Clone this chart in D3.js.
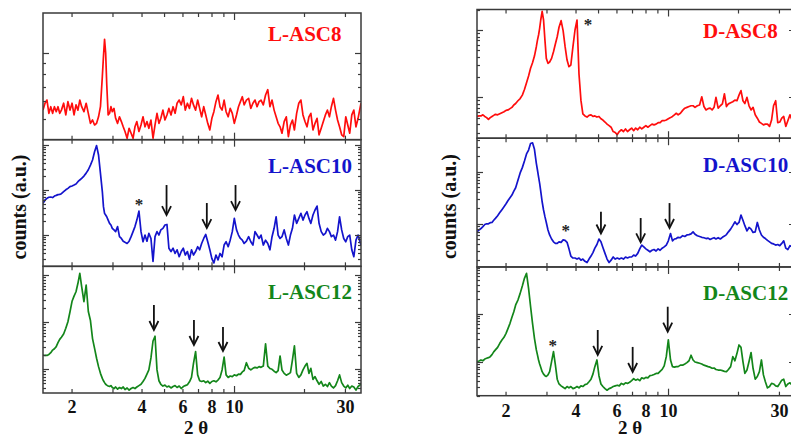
<!DOCTYPE html>
<html>
<head>
<meta charset="utf-8">
<script src="https://cdn.jsdelivr.net/npm/d3@7"></script>
<style>
  html, body { margin: 0; padding: 0; background: #fff; }
  svg { display: block; }
  text { font-family: "Liberation Serif", "Times New Roman", serif; font-weight: bold; }
</style>
</head>
<body>
<svg width="791" height="439"></svg>
<script>
// 2 theta grid shared by all six patterns
const twoTheta = [
  1.50,1.53,1.56,1.59,1.62,1.65,1.68,1.71,1.74,1.77,
  1.80,1.84,1.88,1.92,1.96,2.00,2.04,2.08,2.12,2.16,
  2.20,2.25,2.30,2.35,2.40,2.45,2.50,2.55,2.60,2.65,
  2.70,2.73,2.76,2.79,2.82,2.86,2.90,2.94,2.98,3.03,
  3.08,3.14,3.20,3.26,3.32,3.38,3.45,3.52,3.59,3.66,
  3.73,3.80,3.88,3.96,4.04,4.12,4.20,4.28,4.37,4.46,
  4.55,4.64,4.73,4.82,4.92,5.02,5.12,5.22,5.33,5.44,
  5.55,5.66,5.78,5.90,6.02,6.14,6.27,6.40,6.53,6.66,
  6.80,6.94,7.08,7.22,7.37,7.52,7.67,7.83,7.99,8.15,
  8.32,8.49,8.66,8.84,9.02,9.20,9.39,9.58,9.78,9.98,
  10.2,10.4,10.6,10.8,11.0,11.25,11.5,11.75,12.0,12.25,
  12.5,12.75,13.0,13.3,13.6,13.9,14.2,14.5,14.8,15.1,
  15.4,15.7,16.0,16.35,16.7,17.05,17.4,17.75,18.1,18.5,
  18.9,19.3,19.7,20.1,20.5,20.9,21.3,21.75,22.2,22.65,
  23.1,23.6,24.1,24.6,25.1,25.6,26.1,26.65,27.2,27.75,
  28.3,28.9,29.5,30.1,30.7,31.3,31.95,32.6,33.3,34.0,
  35.0];

// counts (a.u.)
const lAsc8 = [
  547,588,608,529,567,529,567,538,567,529,
  547,588,520,598,547,588,520,578,547,608,
  567,538,588,529,476,493,468,476,510,567,
  780,960,1150,1000,720,520,529,567,538,557,
  502,476,510,485,459,437,407,452,429,407,
  459,485,437,468,510,459,485,452,493,407,
  468,529,476,502,547,493,520,557,520,567,
  529,588,608,578,630,547,588,557,619,578,
  547,608,557,510,567,520,476,444,502,538,
  598,641,567,547,608,538,510,557,529,476,
  520,567,598,630,578,608,619,557,588,608,
  567,598,608,578,641,678,567,608,547,510,
  476,459,429,485,510,414,468,493,444,529,
  588,608,520,485,459,510,529,444,476,502,
  422,452,485,520,547,510,567,619,547,493,
  459,422,414,510,468,429,520,547,459,502,
  588];

const lAsc10 = [
  505,600,653,690,700,680,735,760,790,800,
  830,918,1010,1090,1190,1230,1290,1360,1530,1670,
  1810,2040,2370,2820,3580,4640,7100,9700,5990,2340,
  918,427,303,278,255,215,182,167,141,130,
  119,154,92,84,73,69,65,73,92,119,
  154,215,340,119,71,100,73,109,84,26,
  92,119,100,130,141,167,172,51,43,51,
  39,47,33,43,51,36,43,29,47,36,
  43,55,47,65,84,103,71,47,30,24,
  36,28,39,33,60,71,55,77,119,234,
  130,100,84,77,65,73,92,71,60,119,
  100,84,100,60,77,65,47,92,141,255,
  100,84,92,130,84,60,100,141,278,182,
  234,303,215,278,330,234,182,278,360,440,
  182,119,100,109,141,119,92,100,77,119,
  255,130,84,71,92,100,47,33,77,100,
  60];

const lAsc12 = [
  201,197,197,207,226,256,274,303,368,433,
  480,564,745,1030,1680,2800,3600,4470,6770,11000,
  5730,2750,6220,1700,1090,450,279,172,114,82,
  64,57,52,48,46,44,43,45,41,39,
  42,38,41,39,42,37,40,36,39,41,
  39,42,45,48,55,64,79,97,175,400,
  505,97,57,48,44,46,42,44,40,43,
  45,41,44,39,43,45,47,54,67,134,
  237,76,57,55,57,52,56,50,55,57,
  54,59,67,97,182,76,67,72,70,76,
  73,79,78,88,94,138,105,97,105,110,
  107,114,110,117,350,117,104,100,91,85,
  94,192,97,82,75,79,85,158,315,82,
  67,76,97,117,134,82,105,61,70,57,
  48,55,44,48,43,52,44,40,45,57,
  76,52,44,40,46,39,44,42,36,43,
  48];

const dAsc8 = [
  52,53,53,55,52,50,47,50,52,54,
  56,55,57,59,61,64,65,68,71,77,
  81,89,96,108,131,165,207,270,327,410,
  565,709,843,1060,1409,1890,1409,709,379,320,
  335,379,476,620,795,1100,1377,980,565,358,
  285,302,565,1000,1409,220,90,57,53,51,
  54,55,52,53,51,52,48,46,43,40,
  38,36,31,30,28,31,33,31,34,31,
  33,35,32,35,33,36,34,36,38,36,
  38,40,39,40,42,42,45,45,46,48,
  50,52,55,58,55,58,64,69,71,73,
  75,75,71,75,77,102,73,65,68,69,
  65,71,100,69,75,80,113,73,80,83,
  86,91,89,108,126,89,81,100,75,65,
  71,55,49,43,41,39,40,40,37,46,
  75,89,42,43,49,52,37,45,55,46,
  43];

const dAsc10 = [
  70,76,81,88,97,100,100,105,106,117,
  127,143,164,187,213,243,281,318,357,425,
  493,690,950,1200,1610,2200,2610,3500,3600,2700,
  1450,1080,800,599,425,265,184,137,106,76,
  61,51,45,42,42,45,44,49,48,44,
  33,24,22,22,21,22,20,21,19,18,
  21,24,28,34,40,51,45,35,27,21,
  18,20,23,21,22,21,22,21,23,22,
  23,23,25,24,27,33,39,36,33,31,
  29,31,32,30,33,31,34,36,39,47,
  65,47,51,52,55,54,59,57,61,62,
  64,70,63,59,57,55,54,52,53,50,
  52,54,51,54,51,55,58,62,70,79,
  92,109,97,106,147,117,92,73,85,79,
  68,70,106,76,61,55,52,48,45,42,
  41,39,40,38,42,47,34,32,38,36,
  35];

const dAsc12 = [
  102,105,110,106,115,119,123,129,142,162,
  178,201,244,286,325,392,496,632,842,1100,
  1520,1920,2640,3740,5420,6860,3360,1410,632,309,
  178,140,110,91,78,63,56,52,50,54,
  63,102,164,87,44,35,32,30,28,31,
  29,31,28,29,31,29,32,31,34,35,
  39,44,56,80,110,52,35,31,28,26,
  28,29,31,32,33,32,36,34,37,36,
  38,41,45,42,44,41,47,45,48,47,
  52,53,55,58,58,64,70,83,129,286,
  110,80,78,80,80,86,86,91,97,106,
  138,110,100,97,94,91,86,83,80,78,
  74,75,70,68,68,66,64,63,70,80,
  129,106,151,225,201,102,58,68,102,157,
  74,44,50,63,110,54,39,29,31,36,
  35,32,31,36,42,44,31,35,37,33,
  35];

// markers: arrows [2theta, count at tail, count at tip], stars [2theta, count]
const lAsc10Arrows = [[5.1, 1290, 278], [7.6, 514, 143], [10.1, 1290, 359]];
const lAsc10Stars = [[3.88, 550]];
const lAsc12Arrows = [[4.5, 2335, 686], [6.69, 1120, 329], [8.92, 794, 245]];
const dAsc8Stars = [[4.5, 1328]];
const dAsc10Arrows = [[5.12, 170, 65], [7.59, 129, 44], [10.1, 250, 83]];
const dAsc10Stars = [[3.61, 84]];
const dAsc12Arrows = [[4.96, 460, 140], [7.01, 205, 62], [9.92, 1396, 424]];
const dAsc12Stars = [[3.18, 251]];

const xTicks = [2, 3, 4, 5, 6, 7, 8, 9, 10, 20, 30];
const xTickLabels = [2, 4, 6, 8, 10, 30];
const xDomain = [1.5, 35];

const red = "#ff0d0d", blue = "#1414cc", green = "#13861a";

const svg = d3.select("svg");

const panels = [
  { x0: 43, x1: 361, top: 13, bottom: 393, labelX: 268, yTitleX: 26, tickLabelY: 413, xTitleY: 434,
    subplots: [
      { name: "L-ASC8", color: red, counts: lAsc8, domain: [401, 1518], labelDy: 28, arrows: [], stars: [] },
      { name: "L-ASC10", color: blue, counts: lAsc10, domain: [20.2, 13120], labelDy: 33, arrows: lAsc10Arrows, stars: lAsc10Stars },
      { name: "L-ASC12", color: green, counts: lAsc12, domain: [31.3, 15540], labelDy: 33, arrows: lAsc12Arrows, stars: [] }
    ] },
  { x0: 477, x1: 795, top: 9.5, bottom: 395.7, labelX: 703, yTitleX: 456, tickLabelY: 417, xTitleY: 434,
    subplots: [
      { name: "D-ASC8", color: red, counts: dAsc8, domain: [24.7, 2017], labelDy: 28, arrows: [], stars: dAsc8Stars },
      { name: "D-ASC10", color: blue, counts: dAsc10, domain: [14.8, 4406], labelDy: 33.5, arrows: dAsc10Arrows, stars: dAsc10Stars },
      { name: "D-ASC12", color: green, counts: dAsc12, domain: [20.0, 9310], labelDy: 33, arrows: dAsc12Arrows, stars: dAsc12Stars }
    ] }
];

const frameColor = "#3a3a3a";

panels.forEach((p, pi) => {
  const x = d3.scaleLog().domain(xDomain).range([p.x0, p.x1]);
  const h = (p.bottom - p.top) / 3;

  p.subplots.forEach((s, si) => {
    const top = p.top + si * h, bottom = top + h;
    const y = d3.scaleLog().domain(s.domain).range([bottom, top]);
    const g = svg.append("g");

    const clipId = `clip-${pi}-${si}`;
    svg.append("clipPath").attr("id", clipId)
      .append("rect").attr("x", p.x0).attr("y", top).attr("width", p.x1 - p.x0).attr("height", h);

    const pts = twoTheta.map((t, i) => [t, s.counts[i]]);
    g.append("path")
      .datum(pts)
      .attr("clip-path", `url(#${clipId})`)
      .attr("fill", "none")
      .attr("stroke", s.color)
      .attr("stroke-width", 1.7)
      .attr("stroke-linejoin", "round")
      .attr("d", d3.line().x(d => x(d[0])).y(d => y(d[1])));

    // y ticks, inward on both sides
    y.ticks().forEach(v => {
      const major = Math.abs(Math.log10(v) - Math.round(Math.log10(v))) < 1e-9;
      const len = major ? 6 : 3;
      const yy = Math.round(y(v)) + 0.5;
      g.append("line").attr("x1", p.x0).attr("x2", p.x0 + len).attr("y1", yy).attr("y2", yy)
        .attr("stroke", frameColor).attr("stroke-width", 1.2);
      g.append("line").attr("x1", p.x1).attr("x2", p.x1 - len).attr("y1", yy).attr("y2", yy)
        .attr("stroke", frameColor).attr("stroke-width", 1.2);
    });

    // x ticks, inward top and bottom
    xTicks.forEach(t => {
      const len = t === 10 ? 7 : 4;
      const xx = x(t);
      g.append("line").attr("x1", xx).attr("x2", xx).attr("y1", bottom).attr("y2", bottom - len)
        .attr("stroke", frameColor).attr("stroke-width", 1.2);
      g.append("line").attr("x1", xx).attr("x2", xx).attr("y1", top).attr("y2", top + len)
        .attr("stroke", frameColor).attr("stroke-width", 1.2);
    });

    g.append("rect")
      .attr("x", p.x0).attr("y", top).attr("width", p.x1 - p.x0).attr("height", h)
      .attr("fill", "none").attr("stroke", frameColor).attr("stroke-width", 1.5);

    g.append("text")
      .attr("x", p.labelX).attr("y", top + s.labelDy)
      .attr("fill", s.color).attr("font-size", 21)
      .text(s.name);

    s.arrows.forEach(a => {
      const ax = x(a[0]), y0 = y(a[1]), y1 = y(a[2]);
      g.append("line").attr("x1", ax).attr("x2", ax).attr("y1", y0).attr("y2", y1 - 1)
        .attr("stroke", "#111").attr("stroke-width", 1.8);
      g.append("path")
        .attr("d", `M${ax - 4.5},${y1 - 9}L${ax},${y1}L${ax + 4.5},${y1 - 9}`)
        .attr("fill", "none").attr("stroke", "#111").attr("stroke-width", 1.8);
    });

    s.stars.forEach(st => {
      g.append("text")
        .attr("x", x(st[0])).attr("y", y(st[1]) + 8)
        .attr("text-anchor", "middle").attr("font-size", 17).attr("fill", "#222")
        .text("*");
    });
  });

  // x tick labels and axis title
  svg.selectAll(null).data(xTickLabels).enter().append("text")
    .attr("x", d => x(d)).attr("y", p.tickLabelY)
    .attr("text-anchor", "middle").attr("font-size", 18).attr("fill", "#111")
    .text(d => d);

  svg.append("text")
    .attr("x", x(Math.sqrt(xDomain[0] * xDomain[1])) - 6).attr("y", p.xTitleY)
    .attr("text-anchor", "middle").attr("font-size", 19).attr("fill", "#111")
    .text("2 θ");

  svg.append("text")
    .attr("transform", `translate(${p.yTitleX},${(p.top + p.bottom) / 2 + 4}) rotate(-90)`)
    .attr("text-anchor", "middle").attr("font-size", 20).attr("fill", "#111")
    .text("counts (a.u.)");
});
</script>
</body>
</html>
